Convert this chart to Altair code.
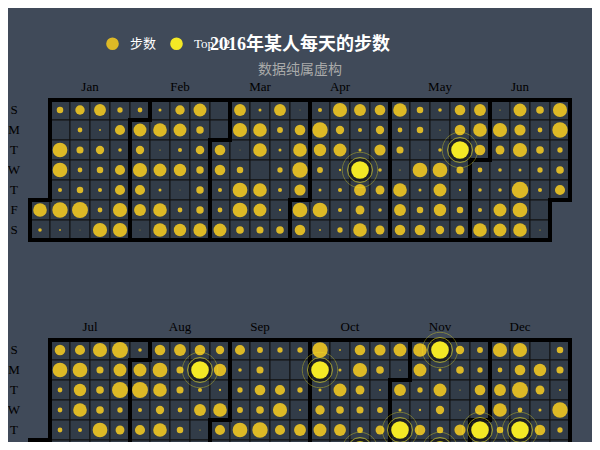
import datetime as dt

import altair as alt
import pandas as pd

# daily steps
steps_h1 = [
    7700, 2000,                                   # Jan 1-2
    3700, 150, 8300, 8300, 2300, 8700, 1000,      # Jan 3-9
    5300, 2700, 4000, 2700, 3700, 9000, 500,
    6700, 1000, 4700, 3700, 2300, 2700, 8000,
    3000, 5700, 2000, 5700, 5700, 8000, 8000,
    2700, 7300, 4700, 8000, 5700, 6700, 500,      # Jan 31 - Feb 6
    1700, 7700, 700, 7300, 1700, 7700, 7700,
    5300, 7300, 2300, 7000, 500, 2700, 7000,
    7300, 4200, 4800, 4200, 4200, 4200, 7500,
    150, 150, 6000, 6000, 2300, 2700, 7300,       # Feb 28 - Mar 5
    6700, 8000, 500, 3700, 8300, 8300, 4300,
    1700, 7700, 7700, 150, 7700, 7300, 4000,
    6700, 3300, 1700, 3000, 2300, 1300, 4300,
    500, 6000, 7700, 8700, 6300, 8300, 6000,      # Mar 27 - Apr 2
    2300, 8700, 7000, 3300, 1700, 8300, 1000,
    8000, 4700, 7300, 1300, 2300, 2300, 3000,
    6700, 2300, 1700, 9960, 6700, 5000, 7700,
    6000, 4700, 6300, 2000, 5000, 2000, 5000,
    7700, 2700, 4000, 700, 7700, 6700, 6000,      # May 1-7
    3700, 3700, 500, 8300, 1700, 3700, 6000,
    2000, 700, 2000, 8300, 7300, 7000, 4700,
    6000, 6000, 9940, 4000, 1300, 3700, 5000,
    6700, 7700, 6000, 2700, 2000, 2300, 7700,     # May 29 - Jun 4
    700, 8000, 5000, 2000, 2000, 7300, 7300,
    7300, 6300, 8000, 1700, 9300, 8300, 7700,
    4300, 2700, 4300, 3000, 2300, 150, 700,
    8000, 8700, 3000, 4300, 5700,                 # Jun 26-30
]
steps_h2 = [
    2000, 5000,                                   # Jul 1-2
    6000, 8300, 2700, 2700, 2700, 7300, 4000,
    5700, 8300, 7000, 7700, 2300, 1700, 6000,
    8000, 4000, 4300, 4300, 8300, 5000, 3000,
    9000, 7300, 9000, 3000, 5000, 150, 7000,
    2000, 7300, 9000, 2300, 5700, 7700, 2000,     # Jul 31 - Aug 6
    6000, 8300, 7700, 4700, 7700, 7300, 5000,
    6700, 4000, 4000, 2700, 3700, 6000, 3300,
    6000, 9950, 2300, 6700, 700, 6000, 4700,
    4700, 7000, 1300, 7700, 5700, 6000, 2700,     # Aug 28 - Sep 3
    5700, 2000, 3000, 3300, 8300, 2300, 6300,
    3300, 4000, 6000, 4300, 8700, 1700, 4000,
    3000, 150, 5700, 8000, 5700, 3300, 5300,
    3000, 150, 3000, 1000, 6700, 6300, 2300,      # Sep 25 - Oct 1
    8700, 9930, 1700, 5300, 7300, 5000, 4000,
    1000, 1700, 7300, 4300, 6700, 3000, 6000,
    6000, 8000, 5000, 4000, 3300, 9970, 2700,
    6300, 4300, 1000, 3300, 5000, 4700, 5300,
    7300, 700, 6700, 1700, 9920, 3700, 6000,      # Oct 30 - Nov 5
    7700, 7300, 3000, 1300, 6000, 4300, 2000,
    9980, 1700, 7300, 4700, 3700, 9910, 5000,
    4700, 4300, 700, 700, 6300, 2700, 4700,
    3300, 3000, 6000, 5700, 9950, 6000, 3300,     # Nov 27 - Dec 3
    8000, 2700, 6700, 7700, 3700, 5000, 6700,
    8000, 6000, 9000, 2700, 9900, 4000, 3000,
    150, 7000, 5000, 1700, 6000, 5300, 4300,
    3700, 4000, 1000, 8700, 3000, 7700, 5000,
]
halves = [(dt.date(2016, 1, 1), steps_h1), (dt.date(2016, 7, 1), steps_h2)]
month_names = ["Jan", "Feb", "Mar", "Apr", "May", "Jun",
               "Jul", "Aug", "Sep", "Oct", "Nov", "Dec"]
day_names = ["S", "M", "T", "W", "T", "F", "S"]
top_limit = 9900   # the twelve best days are drawn with effect
GAP = 12           # second calendar starts 12 cell rows lower

rows = []
for cal, (start, values) in enumerate(halves):
    first_sunday = start - dt.timedelta(days=(start.weekday() + 1) % 7)
    for i, v in enumerate(values):
        d = start + dt.timedelta(days=i)
        rows.append({
            "date": d.isoformat(), "cal": cal, "month": d.month,
            "col": (d - first_sunday).days // 7,
            "row": (d.weekday() + 1) % 7 + GAP * cal,
            "steps": v,
            "series": "Top 12" if v >= top_limit else "步数",
        })
days = pd.DataFrame(rows)
days["col1"] = days["col"] + 1
days["row1"] = days["row"] + 1
days["cx"] = days["col"] + 0.5
days["cy"] = days["row"] + 0.5

# month outlines and labels
outline = []
labels = []
for m, g in days.groupby("month"):
    c0, r0 = g["col"].iloc[0], g["row"].iloc[0]
    c1, r1 = g["col"].iloc[-1], g["row"].iloc[-1]
    top = GAP * g["cal"].iloc[0]
    pts = [(c0, r0), (c0 + 1, r0), (c0 + 1, top), (c1 + 1, top), (c1 + 1, r1 + 1),
           (c1, r1 + 1), (c1, top + 7), (c0, top + 7), (c0, r0)]
    for k, (x, y) in enumerate(pts):
        outline.append({"month": m, "k": k, "x": x, "y": y})
    labels.append({"name": month_names[m - 1], "x": (c0 + c1 + 1) / 2, "y": top - 0.65})
outline = pd.DataFrame(outline)
labels = pd.DataFrame(labels)
weekdays = pd.DataFrame([
    {"name": n, "x": -0.8, "y": GAP * cal + r + 0.5}
    for cal in range(2) for r, n in enumerate(day_names)
])

serif = "Liberation Serif, Noto Sans CJK SC"
xs = alt.Scale(domain=[0, 27], nice=False, zero=False)
ys = alt.Scale(domain=[0, 17.1], nice=False, zero=False, reverse=True)
size = alt.Scale(type="pow", exponent=2, domain=[0, 10000], range=[0, 314])
color = alt.Scale(domain=["步数", "Top 12"], range=["#ddb926", "#f4e925"])

base = alt.Chart(days)
cells = base.mark_rect(fill="#323c48", stroke="#111", strokeWidth=1).encode(
    x=alt.X("col:Q", scale=xs, axis=None), x2="col1:Q",
    y=alt.Y("row:Q", scale=ys, axis=None), y2="row1:Q",
)
dots = base.mark_circle(opacity=1).encode(
    x=alt.X("cx:Q", scale=xs), y=alt.Y("cy:Q", scale=ys),
    size=alt.Size("steps:Q", scale=size, legend=None),
    color=alt.Color("series:N", scale=color, legend=alt.Legend(
        title=None, orient="none", legendX=75, legendY=-64, direction="horizontal",
        symbolType="circle", symbolSize=160, labelColor="#fff", labelFontSize=13,
        labelFont=serif, labelOffset=10, columnPadding=12)),
).transform_filter(alt.datum.steps < top_limit)

lines = alt.Chart(outline).mark_line(
    color="#000", strokeWidth=4, strokeJoin="miter", strokeCap="square"
).encode(
    x=alt.X("x:Q", scale=xs), y=alt.Y("y:Q", scale=ys),
    detail="month:N", order="k:Q",
)

# top days: dark halo, ripple rings, bright dot
tops = base.transform_filter(alt.datum.steps >= top_limit)
halo = tops.mark_circle(color="#1e1e1e", opacity=0.8).encode(
    x=alt.X("cx:Q", scale=xs), y=alt.Y("cy:Q", scale=ys), size=alt.value(500))
ring1 = tops.mark_point(shape="circle", color="#f4e925", strokeWidth=1, opacity=0.6).encode(
    x=alt.X("cx:Q", scale=xs), y=alt.Y("cy:Q", scale=ys), size=alt.value(620))
ring2 = tops.mark_point(shape="circle", color="#f4e925", strokeWidth=1, opacity=0.35).encode(
    x=alt.X("cx:Q", scale=xs), y=alt.Y("cy:Q", scale=ys), size=alt.value(1260))
top_dots = tops.mark_circle(opacity=1).encode(
    x=alt.X("cx:Q", scale=xs), y=alt.Y("cy:Q", scale=ys),
    size=alt.Size("steps:Q", scale=size, legend=None),
    color=alt.Color("series:N", scale=color),
)

month_text = alt.Chart(labels).mark_text(font=serif, fontSize=13, color="#000").encode(
    x=alt.X("x:Q", scale=xs), y=alt.Y("y:Q", scale=ys), text="name:N")
day_text = alt.Chart(weekdays).mark_text(font=serif, fontSize=13, color="#000").encode(
    x=alt.X("x:Q", scale=xs), y=alt.Y("y:Q", scale=ys), text="name:N")

heading = pd.DataFrame({"t": ["2016年某人每天的步数"]})
sub = pd.DataFrame({"t": ["数据纯属虚构"]})
title = alt.Chart(heading).mark_text(
    font=serif, fontSize=18, fontWeight="bold", color="#fff"
).encode(x=alt.value(270), y=alt.value(-55), text="t:N")
subtitle = alt.Chart(sub).mark_text(font=serif, fontSize=14, color="#aaa").encode(
    x=alt.value(270), y=alt.value(-30), text="t:N")

chart = alt.layer(
    cells, dots, lines, halo, ring2, ring1, top_dots,
    month_text, day_text, title, subtitle,
).properties(
    width=540, height=342,
    padding={"left": 22, "top": 92, "right": 22, "bottom": 0},
    autosize=alt.AutoSizeParams(type="none"),
).configure(background="#404a59").configure_view(stroke=None)

chart.save("out.html", embed_options={"renderer": "svg", "actions": False})
